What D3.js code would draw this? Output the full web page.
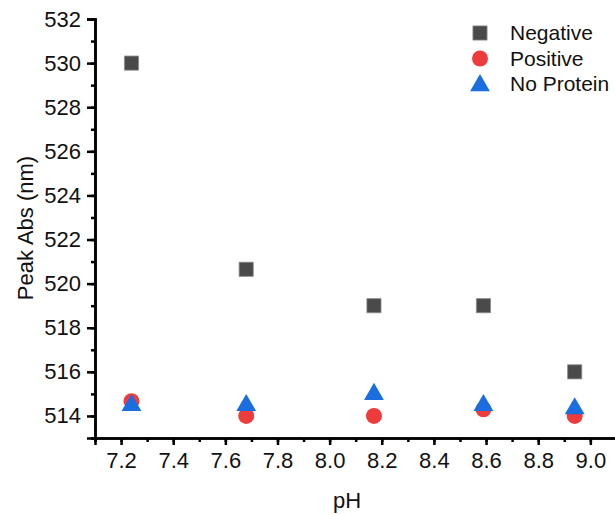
<!DOCTYPE html>
<html>
<head>
<meta charset="utf-8">
<script src="https://cdn.jsdelivr.net/npm/d3@7"></script>
<style>
  html, body { margin: 0; padding: 0; background: #fff; }
  text { font-family: "Liberation Sans", Arial, sans-serif; fill: #111; }
</style>
</head>
<body>
<svg id="chart" width="615" height="515"></svg>
<script>
const pH = [7.24, 7.68, 8.17, 8.59, 8.94];
const negative = [530, 520.65, 519, 519, 516];
const positive = [514.67, 514, 514, 514.3, 514];
const noProtein = [514.55, 514.55, 515.05, 514.55, 514.4];
const seriesNames = ["Negative", "Positive", "No Protein"];
const xTicks = [7.2, 7.4, 7.6, 7.8, 8.0, 8.2, 8.4, 8.6, 8.8, 9.0];
const yTicks = [514, 516, 518, 520, 522, 524, 526, 528, 530, 532];

const svg = d3.select("#chart");
const x = d3.scaleLinear().domain([7.1, 9.1]).range([95, 616.4]);
const y = d3.scaleLinear().domain([513, 532]).range([438, 19]);

const colors = { "Negative": "#4a4a4a", "Positive": "#ee3b3b", "No Protein": "#1b6ee0" };
const symbols = { "Negative": d3.symbolSquare, "Positive": d3.symbolCircle, "No Protein": d3.symbolTriangle };
const sizes = { "Negative": 200, "Positive": 200, "No Protein": 170 };
const FS = 22;

// minor ticks
const xMinor = d3.range(7.1, 9.11, 0.1).map(v => +v.toFixed(1));
const yMinor = d3.range(513, 532.5, 1);

const gx = svg.append("g").attr("transform", `translate(0,${y(513)})`);
gx.call(d3.axisBottom(x).tickValues(xMinor).tickSize(4).tickFormat(""));
gx.append("g").call(d3.axisBottom(x).tickValues(xTicks).tickSize(7).tickPadding(7).tickFormat(d3.format(".1f")));
gx.selectAll("path.domain").attr("stroke", "#000").attr("stroke-width", 2.5);
gx.selectAll("line").attr("stroke", "#000").attr("stroke-width", 2.5);
gx.selectAll("text").attr("font-size", FS).attr("fill", "#111").attr("font-family", "Liberation Sans, Arial, sans-serif");

const gy = svg.append("g").attr("transform", `translate(${x(7.1)},0)`);
gy.call(d3.axisLeft(y).tickValues(yMinor).tickSize(4).tickFormat(""));
gy.append("g").call(d3.axisLeft(y).tickValues(yTicks).tickSize(8).tickPadding(6).tickFormat(d3.format("d")));
gy.selectAll("path.domain").attr("stroke", "#000").attr("stroke-width", 2.5);
gy.selectAll("line").attr("stroke", "#000").attr("stroke-width", 2.5);
gy.selectAll("text").attr("font-size", FS).attr("fill", "#111").attr("font-family", "Liberation Sans, Arial, sans-serif");

// axis titles
svg.append("text").attr("x", 347).attr("y", 508).attr("text-anchor", "middle")
  .attr("font-size", FS).text("pH");
svg.append("text").attr("transform", `translate(33,228) rotate(-90)`).attr("text-anchor", "middle")
  .attr("font-size", FS).text("Peak Abs (nm)");

// data
const data = [
  { name: "Negative", values: negative },
  { name: "Positive", values: positive },
  { name: "No Protein", values: noProtein }
];

data.forEach(s => {
  const sym = d3.symbol().type(symbols[s.name]).size(sizes[s.name]);
  svg.append("g").selectAll("path").data(s.values).join("path")
    .attr("d", sym)
    .attr("transform", (d, i) => {
      const dy = s.name === "No Protein" ? 1.5 : 0;
      return `translate(${x(pH[i])},${y(d) + dy})`;
    })
    .attr("fill", colors[s.name])
    .attr("stroke", s.name === "Negative" ? "#8a8a8a" : "none")
    .attr("stroke-width", 0.8);
});

// legend
const legend = svg.append("g");
seriesNames.forEach((n, i) => {
  const ly = 33 + i * 25.5;
  legend.append("path")
    .attr("d", d3.symbol().type(symbols[n]).size(sizes[n])())
    .attr("transform", `translate(480,${ly + (n === "No Protein" ? 1.5 : 0)})`)
    .attr("fill", colors[n])
    .attr("stroke", n === "Negative" ? "#8a8a8a" : "none")
    .attr("stroke-width", 0.8);
  legend.append("text").attr("x", 510).attr("y", ly).attr("dy", "0.35em")
    .attr("font-size", 21).text(n);
});
</script>
</body>
</html>
